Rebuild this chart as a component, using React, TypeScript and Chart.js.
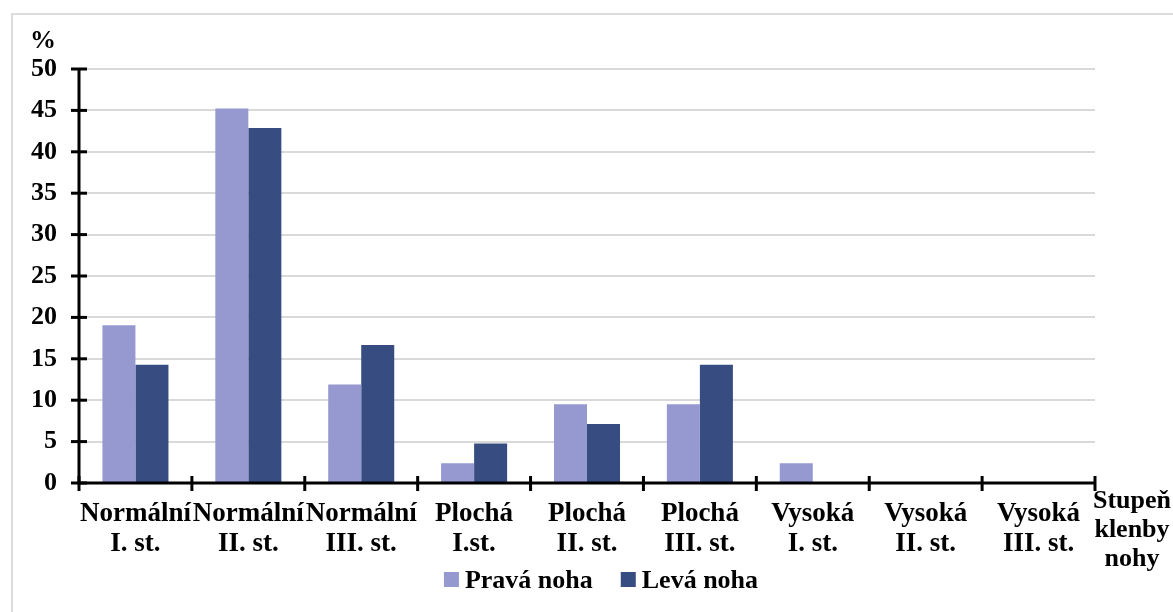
import React, { useEffect, useRef } from "react";
import { Chart, registerables } from "chart.js";

Chart.register(...registerables);

const categories: string[][] = [
  ["Normální", "I. st."],
  ["Normální", "II. st."],
  ["Normální", "III. st."],
  ["Plochá", "I.st."],
  ["Plochá", "II. st."],
  ["Plochá", "III. st."],
  ["Vysoká", "I. st."],
  ["Vysoká", "II. st."],
  ["Vysoká", "III. st."],
];
const pravaNoha: number[] = [19.05, 45.24, 11.9, 2.38, 9.52, 9.52, 2.38, 0, 0];
const levaNoha: number[] = [14.29, 42.86, 16.67, 4.76, 7.14, 14.29, 0, 0, 0];
const seriesNames: string[] = ["Pravá noha", "Levá noha"];
const seriesColors: string[] = ["#9599D0", "#374C80"];
const yTitle = "%";
const xTitleLines: string[] = ["Stupeň", "klenby", "nohy"];

const FONT = "'Liberation Serif', 'Times New Roman', serif";

const axesPlugin = {
  id: "customAxes",
  afterDatasetsDraw(chart: any) {
    const { ctx, chartArea, scales } = chart;
    const { left, right, top, bottom } = chartArea;
    const ys = scales.y;
    const xs = scales.x;
    ctx.save();
    ctx.strokeStyle = "#000";
    ctx.lineWidth = 3;
    ctx.lineCap = "butt";
    ctx.beginPath();
    ctx.moveTo(left, top);
    ctx.lineTo(left, bottom + 1.5);
    ctx.stroke();
    ys.ticks.forEach((t: any) => {
      const y = ys.getPixelForValue(t.value);
      ctx.beginPath();
      ctx.moveTo(left - 8, y);
      ctx.lineTo(left + 8, y);
      ctx.stroke();
    });
    ctx.beginPath();
    ctx.moveTo(left - 1.5, bottom);
    ctx.lineTo(right, bottom);
    ctx.stroke();
    for (let i = 0; i <= categories.length; i++) {
      const x = xs.getPixelForValue(i - 0.5);
      ctx.beginPath();
      ctx.moveTo(x, bottom - 7);
      ctx.lineTo(x, bottom + 8);
      ctx.stroke();
    }
    ctx.restore();
  },
  afterDraw(chart: any) {
    const { ctx, chartArea } = chart;
    ctx.save();
    ctx.fillStyle = "#000";
    ctx.textAlign = "center";
    ctx.textBaseline = "alphabetic";
    ctx.font = `bold 26px ${FONT}`;
    ctx.fillText(yTitle, chartArea.left - 36, chartArea.top - 21);
    ctx.font = `bold 26px ${FONT}`;
    xTitleLines.forEach((line, i) => {
      ctx.fillText(line, chartArea.right + 37, chartArea.bottom + 25 + i * 29);
    });

    // legend
    ctx.font = `bold 26px ${FONT}`;
    ctx.textAlign = "left";
    const box = 15;
    const gapText = 6;
    const gapItem = 28;
    const widths = chart.data.datasets.map((d: any) => box + gapText + ctx.measureText(d.label).width);
    const total = widths.reduce((a: number, b: number) => a + b, 0) + gapItem * (widths.length - 1);
    let x = (chartArea.left + chartArea.right) / 2 + 14 - total / 2;
    const boxTop = chartArea.bottom + 89;
    const baseline = chartArea.bottom + 105;
    chart.data.datasets.forEach((d: any, i: number) => {
      ctx.fillStyle = d.backgroundColor;
      ctx.fillRect(x, boxTop, box, box);
      ctx.fillStyle = "#000";
      ctx.fillText(d.label, x + box + gapText, baseline);
      x += widths[i] + gapItem;
    });
    ctx.restore();
  },
};

export default function App() {
  const ref = useRef<HTMLCanvasElement>(null);
  useEffect(() => {
    if (!ref.current) return;
    const chart = new Chart(ref.current, {
      type: "bar",
      data: {
        labels: categories,
        datasets: [
          {
            label: seriesNames[0],
            data: pravaNoha,
            backgroundColor: seriesColors[0],
            borderWidth: 0,
          },
          {
            label: seriesNames[1],
            data: levaNoha,
            backgroundColor: seriesColors[1],
            borderWidth: 0,
          },
        ],
      },
      options: {
        animation: false,
        responsive: false,
        maintainAspectRatio: false,
        devicePixelRatio: 1,
        layout: { padding: { left: 0, right: 78, top: 69, bottom: 0 } },
        datasets: {
          bar: { categoryPercentage: 0.585, barPercentage: 1 },
        },
        scales: {
          x: {
            grid: { display: false },
            border: { display: false },
            afterFit: (s: any) => {
              s.height = 129;
            },
            ticks: {
              color: "#000",
              padding: 8,
              maxRotation: 0,
              autoSkip: false,
              font: { family: FONT, size: 27, weight: "bold", lineHeight: 1.11 },
            },
          },
          y: {
            min: 0,
            max: 50,
            afterFit: (s: any) => {
              s.width = 79;
            },
            grid: { color: "#d9d9d9", lineWidth: 2, drawTicks: false },
            border: { display: false },
            ticks: {
              stepSize: 5,
              color: "#000",
              padding: 22,
              font: { family: FONT, size: 26, weight: "bold" },
            },
          },
        },
        plugins: {
          legend: { display: false },
          tooltip: { enabled: false },
        },
      },
      plugins: [axesPlugin],
    });
    return () => chart.destroy();
  }, []);
  return (
    <div
      style={{
        position: "fixed",
        left: 0,
        top: 0,
        width: 1173,
        height: 612,
        overflow: "hidden",
        background: "#fff",
      }}
    >
      <div
        style={{
          position: "absolute",
          left: 11,
          top: 13,
          width: 1300,
          height: 700,
          border: "2px solid #dcdcdc",
        }}
      />
      <canvas
        ref={ref}
        width={1173}
        height={612}
        style={{ position: "absolute", left: 0, top: 0, width: 1173, height: 612 }}
      />
    </div>
  );
}
